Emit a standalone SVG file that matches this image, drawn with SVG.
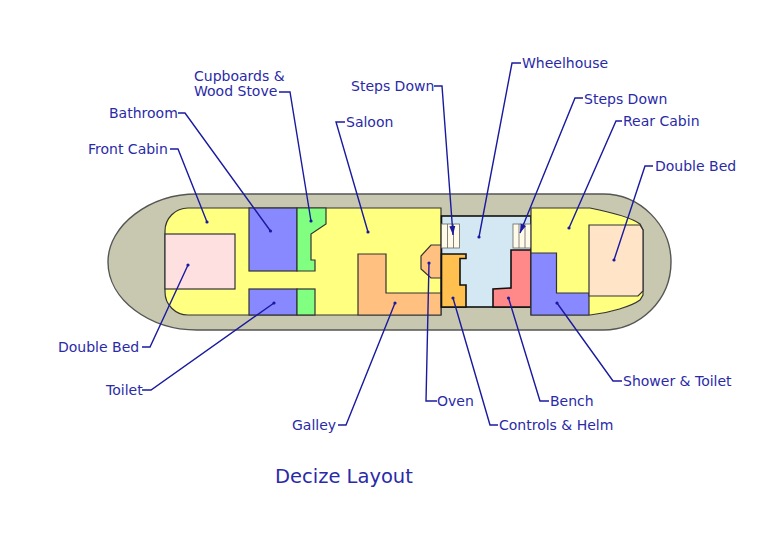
<svg xmlns="http://www.w3.org/2000/svg" width="768" height="543" viewBox="0 0 768 543">
<style>
.room{stroke:#333;stroke-width:1.2}
.heavy{stroke:#111;stroke-width:1.6}
.thin{fill:none;stroke:#666;stroke-width:.8}
.lead{fill:none;stroke:#1a1aa0;stroke-width:1.4;marker-end:url(#dot)}
.arrow{marker-end:url(#tip)}
text{font-family:"DejaVu Sans","Liberation Sans",sans-serif;font-size:14px;fill:#2a2aa8}
.title{font-size:19.500px}
</style>
<defs>
<marker id="dot" markerUnits="userSpaceOnUse" markerWidth="5" markerHeight="5" refX="2.5" refY="2.5"><circle cx="2.5" cy="2.5" r="1.6" fill="#1a1aa0"/></marker>
<marker id="tip" markerUnits="userSpaceOnUse" markerWidth="10" markerHeight="10" refX="9" refY="4" orient="auto"><path d="M0,1 L9,4 L0,7 Z" fill="#1a1aa0"/></marker>
</defs>
<rect width="768" height="543" fill="#fff"/>
<g id="hull"><path d="M197,194 L603,194 C640,194 671,225 671,262 C671,300 640,330 603,330 L197,330 C150,330 108,300 108,262 C108,225 150,194 197,194 Z" fill="#c8c8b0" stroke="#555" stroke-width="1.4"/></g>
<g id="saloon"><path class="room" d="M188,208 L441,208 L441,315 L188,315 A23,23 0 0 1 165,292 L165,231 A23,23 0 0 1 188,208 Z" fill="#ffff80"/></g>
<g id="front-bed"><rect class="room" x="165" y="234" width="70" height="55" fill="#ffe0e0"/></g>
<g id="bathroom"><rect class="room" x="249" y="208" width="48" height="63" fill="#8888ff"/></g>
<g id="cupboards"><path class="room" d="M297,208 L326,208 L326,224 L311,234 L311,260 L315,260 L315,271 L297,271 Z" fill="#80ff80"/></g>
<g id="toilet"><rect class="room" x="249" y="289" width="48" height="26" fill="#8888ff"/></g>
<g id="cupboard-lower"><rect class="room" x="297" y="289" width="18" height="26" fill="#80ff80"/></g>
<g id="galley"><path class="room" d="M358,254 L386,254 L386,293 L441,293 L441,315 L358,315 Z" fill="#ffc080"/></g>
<g id="oven"><path class="room" d="M441,245 L431,245 L421,256 L421,269 L431,278 L441,278 Z" fill="#ffc080"/></g>
<g id="wheelhouse"><rect class="heavy" x="441.5" y="216" width="89.5" height="91" fill="#d4e8f4"/></g>
<g id="steps-left"><rect class="thin" x="441.5" y="224" width="18" height="24" style="fill:#fffbe8"/><path class="thin" d="M447.500,224V248M453.500,224V248"/></g>
<g id="steps-right"><rect class="thin" x="513" y="224" width="18" height="24" style="fill:#fffbe8"/><path class="thin" d="M519,224V248M525,224V248"/></g>
<g id="controls"><path class="heavy" d="M441.500,254 L466,254 L466,258.500 L460,258.500 L460,285 L466,285 L466,307 L441.500,307 Z" fill="#ffc050"/></g>
<g id="bench"><path class="heavy" d="M511,250 L531,250 L531,307 L493,307 L493,289 L511,288 Z" fill="#ff8888"/></g>
<g id="rear-cabin"><path class="room" d="M531,208 L590,208 C610,212 632,218 640,224 L643,230 L643,295 L640,300 C632,306 610,313 590,315 L531,315 Z" fill="#ffff80"/></g>
<g id="shower"><path class="room" d="M531,253 L556.500,253 L556.500,293 L589,293 L589,315 L531,315 Z" fill="#8888ff"/></g>
<g id="rear-bed"><path class="room" d="M589,225 L640,225 L643,230 L643,291 L638,296 L589,296 Z" fill="#ffe4c8"/></g>
<g id="connectors">
<path class="lead" d="M170,149 L178,149 L207,222"/>
<path class="lead" d="M178,113 L185,113 L270.500,231"/>
<path class="lead" d="M279,92 L290,92 L311,221"/>
<path class="lead" d="M345,122 L336,122 L368,232"/>
<path class="lead arrow" d="M434,86 L442,86 L453,235"/>
<path class="lead" d="M521,63 L512,63 L479,237"/>
<path class="lead arrow" d="M583,98 L575,98 L520,233"/>
<path class="lead" d="M622,121 L616,121 L569,228"/>
<path class="lead" d="M653,166 L645,166 L614,260"/>
<path class="lead" d="M142,347 L150,347 L188,265"/>
<path class="lead" d="M142,390 L151,390 L274,303"/>
<path class="lead" d="M338,425 L346,425 L395,303"/>
<path class="lead" d="M437,401 L426,401 L429,263"/>
<path class="lead" d="M498,425 L490,425 L453,298"/>
<path class="lead" d="M549,401 L540,401 L508.500,298"/>
<path class="lead" d="M622,381 L613,381 L557,303"/>
</g>
<g id="labels">
<text x="88" y="154">Front Cabin</text>
<text x="109" y="118">Bathroom</text>
<text x="194" y="81">Cupboards &amp;</text>
<text x="194" y="96">Wood Stove</text>
<text x="346" y="127">Saloon</text>
<text x="351" y="91">Steps Down</text>
<text x="522" y="68">Wheelhouse</text>
<text x="584" y="104">Steps Down</text>
<text x="623" y="126">Rear Cabin</text>
<text x="655" y="171">Double Bed</text>
<text x="58" y="352">Double Bed</text>
<text x="106" y="395">Toilet</text>
<text x="292" y="430">Galley</text>
<text x="437" y="406">Oven</text>
<text x="499" y="430">Controls &amp; Helm</text>
<text x="550" y="406">Bench</text>
<text x="623" y="386">Shower &amp; Toilet</text>
<text class="title" x="275" y="483">Decize Layout</text>
</g>
</svg>
